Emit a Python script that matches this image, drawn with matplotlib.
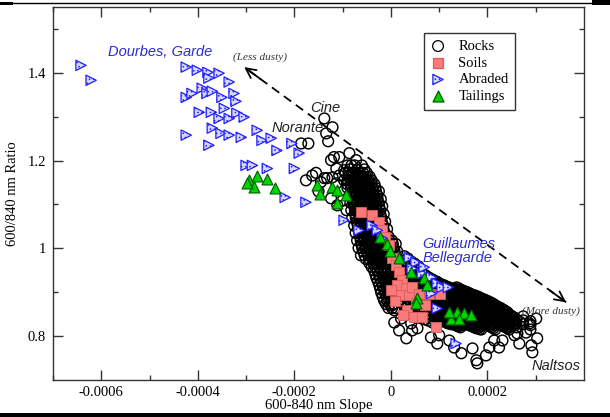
import numpy as np
import matplotlib
matplotlib.use("Agg")
import matplotlib.pyplot as plt
from matplotlib.ticker import FixedLocator, FuncFormatter
from matplotlib.lines import Line2D
from matplotlib.patches import Rectangle

# ---------------- data (slope values in units of 1e-4) ----------------
SLOPE_UNIT = 1e-4

# Rocks: scattered points (upper Cine/Norante group, lower outliers, Naltsos end)
rocks_loose_slope = [
    -1.38, -1.21, -1.34, -1.30, -1.86, -1.71, -1.18, -0.86, -1.24, -1.07, -1.13, -0.97, -0.82, -0.72, -1.21, -1.38, -0.76,
    -1.76, -1.63, -1.45, -1.32, -1.13, -1.07, -1.00, -0.92, -1.11, -1.24, -1.55, -1.50,
    0.21, 0.42, 0.07, 0.55, 0.83, -0.08, 0.07, 0.17, 0.44, 0.32,
    0.96, 1.00, 1.21, 1.31, 1.46, 1.69, 1.79, 2.24, 2.14, 2.62,
    2.66, 0.02,
    2.87, 3.01, 2.80, 3.03, 2.91, 2.93, 2.56, 2.31, 2.04, 1.77, 1.97,
]
rocks_loose_ratio = [
    1.296, 1.276, 1.262, 1.244, 1.239, 1.239, 1.208, 1.217, 1.201, 1.208, 1.182, 1.178, 1.189, 1.201, 1.162, 1.160, 1.151,
    1.155, 1.166, 1.151, 1.160, 1.148, 1.166, 1.109, 1.087, 1.098, 1.114, 1.172, 1.130,
    0.840, 0.829, 0.859, 0.818, 0.797, 0.881, 0.831, 0.813, 0.813, 0.795,
    0.783, 0.802, 0.790, 0.774, 0.761, 0.772, 0.738, 0.774, 0.790, 0.806,
    0.783, 0.870,
    0.829, 0.840, 0.808, 0.795, 0.779, 0.763, 0.802, 0.790, 0.774, 0.745, 0.756,
]

# Rocks: dense steep band, read row by row (ratio of the row, slopes in the row)
rocks_band_ratio = [1.189, 1.180, 1.172, 1.163, 1.155, 1.146, 1.138, 1.130, 1.121, 1.112,
                    1.104, 1.096, 1.087, 1.078, 1.070, 1.061, 1.052, 1.044, 1.035, 1.027,
                    1.018, 1.010, 1.001, 0.993, 0.984, 0.976, 0.967, 0.958, 0.950, 0.941,
                    0.933, 0.925, 0.916, 0.908, 0.899, 0.890, 0.881, 0.873, 0.864]
rocks_band_slope = [
    [-0.90, -0.75, -0.60],
    [-0.85, -0.70, -0.55],
    [-0.95, -0.875, -0.80, -0.725, -0.65, -0.575, -0.50],
    [-0.88, -0.805, -0.73, -0.655, -0.58, -0.51, -0.44],
    [-0.97, -0.895, -0.82, -0.745, -0.67, -0.595, -0.52, -0.46, -0.40],
    [-0.90, -0.825, -0.75, -0.675, -0.60, -0.53, -0.46, -0.40, -0.34],
    [-0.90, -0.825, -0.75, -0.675, -0.60, -0.525, -0.45, -0.385, -0.32],
    [-0.81, -0.735, -0.66, -0.585, -0.51, -0.44, -0.37, -0.31, -0.25],
    [-0.86, -0.79, -0.72, -0.645, -0.57, -0.495, -0.42, -0.35, -0.28],
    [-0.78, -0.705, -0.63, -0.555, -0.48, -0.41, -0.34, -0.275, -0.21],
    [-0.84, -0.77, -0.70, -0.625, -0.55, -0.475, -0.40, -0.33, -0.26],
    [-0.76, -0.685, -0.61, -0.535, -0.46, -0.385, -0.31, -0.245, -0.18],
    [-0.82, -0.745, -0.67, -0.595, -0.52, -0.445, -0.37, -0.295, -0.22],
    [-0.74, -0.665, -0.59, -0.515, -0.44, -0.365, -0.29, -0.22, -0.15],
    [-0.80, -0.725, -0.65, -0.575, -0.50, -0.425, -0.35, -0.275, -0.20],
    [-0.71, -0.635, -0.56, -0.485, -0.41, -0.335, -0.26, -0.19, -0.12],
    [-0.76, -0.685, -0.61, -0.535, -0.46, -0.385, -0.31, -0.235, -0.16],
    [-0.68, -0.605, -0.53, -0.455, -0.38, -0.305, -0.23, -0.155, -0.08],
    [-0.73, -0.655, -0.58, -0.505, -0.43, -0.355, -0.28, -0.205, -0.13],
    [-0.64, -0.565, -0.49, -0.415, -0.34, -0.265, -0.19, -0.12, -0.05],
    [-0.70, -0.625, -0.55, -0.475, -0.40, -0.325, -0.25, -0.175, -0.10, -0.04, 0.02],
    [-0.61, -0.535, -0.46, -0.385, -0.31, -0.235, -0.16, -0.09, -0.02, 0.04, 0.10],
    [-0.67, -0.595, -0.52, -0.445, -0.37, -0.295, -0.22, -0.15, -0.08, -0.015, 0.05],
    [-0.57, -0.495, -0.42, -0.345, -0.27, -0.195, -0.12, -0.05, 0.02, 0.075, 0.13],
    [-0.62, -0.545, -0.47, -0.395, -0.32, -0.245, -0.17, -0.10, -0.03, 0.025, 0.08],
    [-0.52, -0.45, -0.38, -0.305, -0.23, -0.155, -0.08, -0.01, 0.06],
    [-0.45, -0.375, -0.30, -0.225, -0.15, -0.075, 0.00, 0.06, 0.12],
    [-0.40, -0.325, -0.25, -0.175, -0.10, -0.025, 0.05, 0.105, 0.16],
    [-0.35, -0.275, -0.20, -0.125, -0.05, 0.025, 0.10],
    [-0.32, -0.245, -0.17, -0.095, -0.02, 0.05, 0.12],
    [-0.30, -0.225, -0.15, -0.075, 0.00, 0.075, 0.15],
    [-0.27, -0.195, -0.12, -0.045, 0.03, 0.105, 0.18],
    [-0.24, -0.17, -0.10, -0.025, 0.05],
    [-0.22, -0.145, -0.07, 0.005, 0.08],
    [-0.20, -0.125, -0.05, 0.025, 0.10],
    [-0.17, -0.095, -0.02, 0.055, 0.13],
    [-0.14, -0.07, 0.00],
    [-0.10, -0.025, 0.05],
    [-0.05, 0.025, 0.10],
]

# Rocks: dense fan towards Naltsos, read column by column (slope of the column, ratios in it)
rocks_fan_slope = [0.28, 0.35, 0.42, 0.49, 0.57, 0.64, 0.71, 0.78, 0.86, 0.93, 1.00, 1.07, 1.15, 1.22,
                   1.29, 1.36, 1.44, 1.51, 1.58, 1.65, 1.73, 1.80, 1.87, 1.94, 2.02, 2.09, 2.16, 2.23,
                   2.31, 2.38, 2.45, 2.52, 2.60, 2.67, 2.74, 2.89,
                   0.965, 1.035, 1.11, 1.185, 1.255, 1.325, 1.40, 1.475, 1.545, 1.615, 1.69, 1.765,
                   1.835, 1.905, 1.98, 2.055, 2.125, 2.195, 2.27, 2.345, 2.415, 2.485, 2.56]
rocks_fan_ratio = [
    [0.982, 0.973, 0.964, 0.955, 0.945, 0.936, 0.927, 0.918, 0.909, 0.900, 0.891, 0.882, 0.872],
    [0.977, 0.968, 0.958, 0.949, 0.940, 0.931, 0.922, 0.913, 0.904, 0.895, 0.885, 0.876, 0.867],
    [0.970, 0.961, 0.952, 0.943, 0.934, 0.925, 0.916, 0.907, 0.897, 0.888, 0.879, 0.870, 0.861],
    [0.965, 0.956, 0.946, 0.937, 0.928, 0.919, 0.910, 0.901, 0.892, 0.883, 0.873, 0.864, 0.855],
    [0.959, 0.950, 0.941, 0.932, 0.922, 0.913, 0.904, 0.895, 0.886, 0.877, 0.868, 0.859, 0.849],
    [0.944, 0.935, 0.926, 0.917, 0.908, 0.898, 0.889, 0.880, 0.871, 0.862, 0.853, 0.844],
    [0.939, 0.929, 0.920, 0.911, 0.902, 0.893, 0.884, 0.875, 0.866, 0.856, 0.847, 0.838],
    [0.934, 0.925, 0.916, 0.907, 0.898, 0.888, 0.879, 0.870, 0.861, 0.852, 0.844, 0.835],
    [0.929, 0.920, 0.911, 0.902, 0.893, 0.884, 0.875, 0.865, 0.856, 0.847, 0.839, 0.831],
    [0.925, 0.916, 0.907, 0.897, 0.888, 0.879, 0.870, 0.861, 0.852, 0.843],
    [0.920, 0.911, 0.902, 0.893, 0.884, 0.875, 0.866, 0.856, 0.847, 0.838],
    [0.917, 0.908, 0.899, 0.890, 0.881, 0.871, 0.862, 0.853, 0.844, 0.835],
    [0.913, 0.904, 0.895, 0.886, 0.877, 0.868, 0.859, 0.849, 0.840, 0.831],
    [0.910, 0.901, 0.892, 0.883, 0.874, 0.865, 0.856, 0.846, 0.838, 0.829],
    [0.907, 0.897, 0.888, 0.879, 0.870, 0.861, 0.852, 0.843, 0.835, 0.827],
    [0.911, 0.902, 0.893, 0.884, 0.875, 0.866, 0.857, 0.848, 0.838, 0.831, 0.824],
    [0.906, 0.897, 0.888, 0.879, 0.870, 0.861, 0.852, 0.843, 0.834, 0.827, 0.820],
    [0.903, 0.894, 0.885, 0.876, 0.867, 0.858, 0.849, 0.840, 0.831],
    [0.900, 0.891, 0.881, 0.872, 0.863, 0.854, 0.845, 0.836, 0.827],
    [0.896, 0.887, 0.878, 0.869, 0.860, 0.851, 0.842, 0.833, 0.824],
    [0.893, 0.884, 0.875, 0.866, 0.856, 0.847, 0.838, 0.829, 0.820],
    [0.890, 0.881, 0.871, 0.862, 0.853, 0.844, 0.835, 0.827, 0.818],
    [0.886, 0.877, 0.868, 0.859, 0.849, 0.840, 0.831, 0.823, 0.815],
    [0.883, 0.874, 0.864, 0.855, 0.846, 0.837, 0.828],
    [0.879, 0.870, 0.861, 0.852, 0.843, 0.834, 0.824],
    [0.875, 0.866, 0.857, 0.848, 0.839, 0.830, 0.820],
    [0.870, 0.861, 0.852, 0.843, 0.834, 0.825, 0.815],
    [0.866, 0.857, 0.848, 0.839, 0.830],
    [0.861, 0.852, 0.843, 0.834, 0.824],
    [0.856, 0.847, 0.838, 0.829, 0.820],
    [0.849, 0.840, 0.831, 0.823, 0.815],
    [0.844, 0.835, 0.826],
    [0.838, 0.829, 0.820],
    [0.833],
    [0.845, 0.836, 0.827],
    [0.834, 0.825, 0.815],
    # in-between columns
    [0.923, 0.914, 0.905, 0.895, 0.886, 0.877, 0.868, 0.859, 0.850, 0.841],
    [0.918, 0.909, 0.900, 0.891, 0.882, 0.873, 0.864, 0.854, 0.845, 0.836],
    [0.915, 0.906, 0.897, 0.888, 0.879, 0.869, 0.860, 0.851, 0.842, 0.833],
    [0.911, 0.902, 0.893, 0.884, 0.875, 0.866, 0.857, 0.847, 0.838, 0.829],
    [0.908, 0.899, 0.890, 0.881, 0.872, 0.863, 0.854, 0.844, 0.836, 0.827],
    [0.907, 0.898, 0.889, 0.880, 0.871, 0.862, 0.853, 0.844, 0.835, 0.827],
    [0.909, 0.900, 0.891, 0.882, 0.873, 0.864, 0.855, 0.846, 0.836, 0.829, 0.822],
    [0.904, 0.895, 0.886, 0.877, 0.868, 0.859, 0.850, 0.841, 0.832, 0.825],
    [0.901, 0.892, 0.883, 0.874, 0.865, 0.856, 0.847, 0.838, 0.829],
    [0.898, 0.889, 0.879, 0.870, 0.861, 0.852, 0.843, 0.834, 0.825],
    [0.894, 0.885, 0.876, 0.867, 0.858, 0.849, 0.840, 0.831, 0.822],
    [0.891, 0.882, 0.873, 0.864, 0.854, 0.845, 0.836, 0.827, 0.818],
    [0.888, 0.879, 0.869, 0.860, 0.851, 0.842, 0.833, 0.825, 0.816],
    [0.884, 0.875, 0.866, 0.857, 0.847, 0.838, 0.829],
    [0.881, 0.872, 0.862, 0.853, 0.844, 0.835, 0.826],
    [0.877, 0.868, 0.859, 0.850, 0.841, 0.832, 0.822],
    [0.873, 0.864, 0.855, 0.846, 0.837, 0.828, 0.818],
    [0.868, 0.859, 0.850, 0.841, 0.832],
    [0.864, 0.855, 0.846, 0.837, 0.828],
    [0.859, 0.850, 0.841, 0.832, 0.822],
    [0.854, 0.845, 0.836, 0.827, 0.818],
    [0.847, 0.838, 0.829],
    [0.842, 0.833, 0.824],
]

soils_slope = [-0.62, -0.39, -0.24, -0.18, -0.12, -0.04, 0.03, 0.11, 0.17, 0.23, 0.13, 0.32, 0.21, 0.38,
               0.44, 0.59, 0.79, 1.02, 0.52, 0.71, 0.34, 0.48, 0.65, 0.26, 0.94, 0.09, 0.01]
soils_ratio = [1.082, 1.075, 1.059, 1.041, 1.025, 1.007, 0.979, 0.961, 0.945, 0.927, 0.916, 0.909, 0.893, 0.893,
               0.911, 0.897, 0.897, 0.897, 0.875, 0.870, 0.859, 0.843, 0.843, 0.847, 0.820, 0.881, 0.904]

abraded_slope = [-6.42, -6.21, -4.24, -4.01, -3.79, -3.56, -3.35, -3.77, -4.24, -4.12, -3.91, -3.81, -3.70, -3.50,
                 -3.25, -3.21, -3.97, -3.72, -3.45, -3.56, -3.35, -3.19, -3.04, -3.70, -3.52, -3.35, -3.10, -2.77,
                 -4.24, -3.77, -2.67, -2.48, -2.36, -2.05, -1.90, -3.00, -2.87, -2.56, -2.00, -2.19, -1.76, -0.97,
                 -0.66, -0.39, -0.28, -0.18, 0.38, 0.52, 0.44, 0.65, 0.69, 0.84, 0.96, 1.06, 1.19, 0.84, 0.96, 1.35]
abraded_ratio = [1.417, 1.383, 1.413, 1.406, 1.401, 1.399, 1.379, 1.388, 1.344, 1.353, 1.365, 1.353, 1.358, 1.344,
                 1.353, 1.335, 1.310, 1.310, 1.319, 1.296, 1.296, 1.308, 1.299, 1.274, 1.262, 1.258, 1.253, 1.269,
                 1.258, 1.235, 1.246, 1.251, 1.223, 1.239, 1.217, 1.189, 1.189, 1.182, 1.182, 1.116, 1.105, 1.064,
                 1.041, 1.052, 1.041, 1.023, 0.979, 0.968, 0.954, 0.943, 0.957, 0.934, 0.920, 0.911, 0.911, 0.897,
                 0.863, 0.783]

tailings_slope = [-2.94, -2.78, -2.56, -2.83, -2.98, -2.40, -1.53, -1.47, -1.22, -1.11, -0.93, -1.11, -0.22, -0.08,
                  -0.01, 0.17, 0.42, 0.69, 0.75, 0.55, 0.52, 1.25, 1.37, 1.52, 1.66, 1.42, 1.21]
tailings_ratio = [1.155, 1.166, 1.157, 1.139, 1.148, 1.137, 1.144, 1.125, 1.139, 1.132, 1.121, 1.103, 1.027, 1.011,
                  0.995, 0.977, 0.945, 0.932, 0.916, 0.888, 0.875, 0.840, 0.856, 0.852, 0.847, 0.840, 0.854]

x_major = [-0.0006, -0.0004, -0.0002, 0.0, 0.0002]
x_minor = [-0.0007, -0.0005, -0.0003, -0.0001, 0.0001, 0.0003]
y_major = [0.8, 1.0, 1.2, 1.4]
y_minor = [0.9, 1.1, 1.3, 1.5]

series_labels = ["Rocks", "Soils", "Abraded", "Tailings"]

# ---------------- assemble rocks ----------------
rx = list(rocks_loose_slope)
ry = list(rocks_loose_ratio)
for r, row in zip(rocks_band_ratio, rocks_band_slope):
    rx.extend(row)
    ry.extend([r] * len(row))
for s, col in zip(rocks_fan_slope, rocks_fan_ratio):
    rx.extend([s] * len(col))
    ry.extend(col)

# ---------------- figure ----------------
plt.rcParams['hatch.color'] = '#1f1fff'
plt.rcParams['hatch.linewidth'] = 0.6

SERIF = ['Liberation Serif', 'DejaVu Serif']
SANS = ['Liberation Sans', 'DejaVu Sans']

fig = plt.figure(figsize=(6.10, 4.17), dpi=100)
ax = fig.add_axes([53 / 610, 37 / 417, 531 / 610, 373 / 417])

def xs(v):
    return np.asarray(v) * SLOPE_UNIT

ax.scatter(xs(rx), ry, s=60, facecolors='none', edgecolors='black',
           linewidths=1.05, marker='o', label=series_labels[0], zorder=2)
ax.scatter(xs(soils_slope), soils_ratio, s=48, facecolors='#f87a7a', edgecolors='#e05a5a',
           linewidths=0.6, marker='s', label=series_labels[1], zorder=3)
ax.scatter(xs(abraded_slope), abraded_ratio, s=55, facecolors='#d8d8ff', edgecolors='#1f1fff',
           linewidths=0.9, marker='>', hatch='....', label=series_labels[2], zorder=4)
ax.scatter(xs(tailings_slope), tailings_ratio, s=62, facecolors='#00d400', edgecolors='#005a00',
           linewidths=0.8, marker='^', label=series_labels[3], zorder=5)

ax.set_xlim(-0.0007, 0.0004)
ax.set_ylim(0.7, 1.55)

ax.xaxis.set_major_locator(FixedLocator(x_major))
ax.xaxis.set_minor_locator(FixedLocator(x_minor))
ax.yaxis.set_major_locator(FixedLocator(y_major))
ax.yaxis.set_minor_locator(FixedLocator(y_minor))
fmt = FuncFormatter(lambda v, p: '%g' % round(v, 6))
ax.xaxis.set_major_formatter(fmt)
ax.yaxis.set_major_formatter(fmt)

ax.tick_params(which='both', direction='in', top=True, right=True, color='#333333', width=1)
ax.tick_params(which='major', length=7)
ax.tick_params(which='minor', length=3.6)
ax.tick_params(axis='x', which='major', pad=4)
ax.tick_params(axis='y', which='major', pad=5)
for lab in ax.get_xticklabels() + ax.get_yticklabels():
    lab.set_family(SERIF)
    lab.set_fontsize(10.5)
for sp in ax.spines.values():
    sp.set_color('#333333')
    sp.set_linewidth(1)

ax.set_xlabel("600-840 nm Slope", family=SERIF, fontsize=10.5, labelpad=0)
ax.set_ylabel("600/840 nm Ratio", family=SERIF, fontsize=10.5, labelpad=6)

leg = ax.legend(loc='upper left', bbox_to_anchor=(0.699, 0.930), prop={'family': SERIF, 'size': 10.5},
                frameon=True, fancybox=False, framealpha=1, edgecolor='#333333',
                handlelength=1.0, handletextpad=0.9, labelspacing=0.24, borderpad=0.45,
                borderaxespad=0, scatterpoints=1)
leg.get_frame().set_linewidth(1.0)
for h in leg.legend_handles:
    h.set_linewidth(0.9)

# ---------------- annotations ----------------
blue = '#2b2bd4'
ax.text(-4.78e-4, 1.447, "Dourbes, Garde", color=blue, style='italic', family=SANS,
        fontsize=10.5, ha='center', va='center')
ax.text(-2.71e-4, 1.436, "(Less dusty)", color='#333333', style='italic', family=SERIF,
        fontsize=8, ha='center', va='center')
ax.text(-1.36e-4, 1.319, "Cine", color='#222222', style='italic', family=SANS,
        fontsize=10.5, ha='center', va='center')
ax.text(-1.94e-4, 1.274, "Norante", color='#222222', style='italic', family=SANS,
        fontsize=10.5, ha='center', va='center')
ax.text(0.65e-4, 0.995, "Guillaumes\nBellegarde", color=blue, style='italic', family=SANS,
        fontsize=10.5, ha='left', va='center', linespacing=1.0)
ax.text(3.32e-4, 0.856, "(More dusty)", color='#333333', style='italic', family=SERIF,
        fontsize=8, ha='center', va='center')
ax.text(3.43e-4, 0.731, "Naltsos", color='#222222', style='italic', family=SANS,
        fontsize=10.5, ha='center', va='center')

# dashed double arrow
p0 = np.array([3.63e-4, 0.877])
p1 = np.array([-3.04e-4, 1.413])
ax.plot([p0[0], p1[0]], [p0[1], p1[1]], color='black', lw=1.3, linestyle=(0, (5, 3.2)), zorder=1)
for tip, other in ((p0, p1), (p1, p0)):
    back = tip + (other - tip) * 0.05
    ax.annotate('', xy=tip, xytext=back,
                arrowprops=dict(arrowstyle='->,head_length=0.7,head_width=0.35', lw=1.3,
                                color='black', shrinkA=0, shrinkB=0), zorder=1)

# ---------------- page borders ----------------
fig.add_artist(Line2D([0, 1], [1 - 3.2 / 417, 1 - 3.2 / 417], transform=fig.transFigure,
                      color='black', lw=1.0))
fig.add_artist(Rectangle((0, 1 - 5 / 417), 13 / 610, 3.5 / 417, transform=fig.transFigure,
                         color='black', lw=0))
fig.add_artist(Rectangle((592 / 610, 1 - 5 / 417), 18 / 610, 5 / 417, transform=fig.transFigure,
                         color='black', lw=0))
fig.add_artist(Rectangle((0, 0), 1, 4 / 417, transform=fig.transFigure, color='black', lw=0))

fig.savefig("out.png", dpi=100)
